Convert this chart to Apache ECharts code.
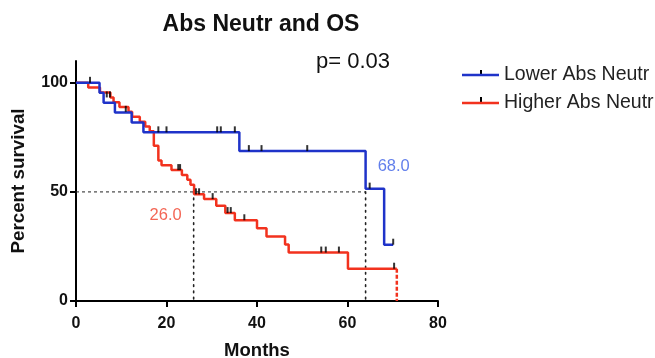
<!DOCTYPE html>
<html>
<head>
<meta charset="utf-8">
<script src="https://cdn.jsdelivr.net/npm/echarts@6/dist/echarts.min.js"></script>
<style>
  html, body { margin: 0; padding: 0; background: #fff; }
  #chart { width: 655px; height: 358px; }
</style>
</head>
<body>
<div id="chart"></div>
<script>
// Kaplan–Meier survival steps: [months, percent surviving]
const lowerSteps = [[0,100],[5.2,95.5],[6.1,90.9],[8.6,86.4],[12.3,81.8],[14.9,77.3],[36.1,68.7],[64.0,51.5],[68.1,25.8],[70.1,25.8]];
const higherSteps = [[0,100],[2.7,97.8],[5.3,95.6],[7.6,93.3],[8.3,91.1],[9.6,88.9],[11.6,86.7],[12.4,84.4],[14.1,82.2],[15.3,80.0],[16.3,77.8],[17.2,71.1],[18.2,64.4],[18.9,62.2],[21.1,60.0],[23.4,57.8],[24.6,55.6],[25.3,53.3],[26.1,48.9],[28.3,46.7],[31.0,43.6],[33.0,40.3],[35.1,37.0],[40.0,33.3],[42.1,29.6],[46.2,25.9],[47.0,22.2],[60.1,14.8],[70.9,14.8]];
// last event of the higher group, drawn dashed
const higherLastDrop = [[70.9,14.8],[70.9,0]];

// censored observations
const lowerCensored = [[3.1,100],[18.2,77.3],[20.0,77.3],[31.2,77.3],[32.0,77.3],[35.1,77.3],[38.2,68.7],[41.0,68.7],[51.1,68.7],[64.9,51.5],[70.1,25.8]];
const higherCensored = [[6.8,93.3],[7.5,93.3],[11.0,86.7],[22.6,60.0],[23.0,60.0],[26.5,48.9],[27.2,48.9],[30.2,46.7],[33.5,40.3],[34.2,40.3],[37.2,37.0],[54.2,22.2],[55.2,22.2],[58.1,22.2],[70.3,14.8]];

// median survival
const medianHigher = 26.0;
const medianLower = 68.0;
const lowerCrossLine = 64.0;   // where the dotted guide meets the 50% line
const halfLine = 50;

const seriesNames = ['Lower Abs Neutr', 'Higher Abs Neutr'];
const titleText = 'Abs Neutr and OS';
const pValueText = 'p= 0.03';
const xTicks = [0, 20, 40, 60, 80];
const yTicks = [0, 50, 100];

const BLUE = '#1f33c9';
const RED = '#f2321e';
const FONT = '"Liberation Sans", Arial, sans-serif';

const chart = echarts.init(document.getElementById('chart'), null, { renderer: 'canvas' });

const censorTick = {
  symbol: 'rect', symbolSize: [2, 6], symbolOffset: [0, -3],
  itemStyle: { color: '#000' }
};

chart.setOption({
  animation: false,
  backgroundColor: '#fff',
  title: {
    text: titleText,
    left: 256, top: 8, textAlign: 'center',
    textStyle: { fontFamily: FONT, fontSize: 23, fontWeight: 'bold', color: '#111' }
  },
  legend: {
    orient: 'vertical',
    left: 462, top: 65, padding: 0,
    itemWidth: 37, itemHeight: 2.5, itemGap: 8,
    icon: 'rect',
    textStyle: { fontFamily: FONT, fontSize: 19.5, color: '#222' },
    data: seriesNames
  },
  grid: { left: 76, right: 217, top: 61, bottom: 57, outerBoundsMode: 'none', containLabel: false },
  xAxis: {
    type: 'value', min: 0, max: 80, interval: 20,
    name: 'Months', nameLocation: 'middle', nameGap: 40,
    nameTextStyle: { fontFamily: FONT, fontSize: 18.5, fontWeight: 'bold', color: '#111' },
    axisLine: { lineStyle: { color: '#000', width: 2 } },
    axisTick: { length: 6, lineStyle: { color: '#000', width: 2 }, customValues: xTicks },
    axisLabel: { fontFamily: FONT, fontSize: 16, fontWeight: 'bold', color: '#111', margin: 15, customValues: xTicks },
    splitLine: { show: false }
  },
  yAxis: {
    type: 'value', min: 0, max: 110, interval: 50,
    name: 'Percent survival', nameLocation: 'middle', nameGap: 48, nameRotate: 90,
    nameTextStyle: { fontFamily: FONT, fontSize: 18.8, fontWeight: 'bold', color: '#111' },
    axisLine: { show: true, lineStyle: { color: '#000', width: 2 } },
    axisTick: { show: true, length: 6, lineStyle: { color: '#000', width: 2 }, customValues: yTicks },
    axisLabel: { fontFamily: FONT, fontSize: 16, fontWeight: 'bold', color: '#111', margin: 8, customValues: yTicks },
    splitLine: { show: false }
  },
  graphic: [
    { type: 'text', left: 316, top: 51,
      style: { text: pValueText, fontFamily: FONT, fontSize: 22, fill: '#111' } },
    // censor ticks on the legend icons
    { type: 'line', shape: { x1: 481, y1: 70, x2: 481, y2: 75 }, style: { stroke: '#000', lineWidth: 2 } },
    { type: 'line', shape: { x1: 481, y1: 97, x2: 481, y2: 102 }, style: { stroke: '#000', lineWidth: 2 } }
  ],
  series: [
    {
      name: seriesNames[0], type: 'line', step: 'end', data: lowerSteps,
      showSymbol: false, symbol: 'none', z: 4,
      color: BLUE, lineStyle: { color: BLUE, width: 2.5 }
    },
    {
      name: seriesNames[1], type: 'line', step: 'end', data: higherSteps,
      showSymbol: false, symbol: 'none', z: 3,
      color: RED, lineStyle: { color: RED, width: 2.5 }
    },
    {
      type: 'line', data: higherLastDrop, symbol: 'none', z: 3,
      lineStyle: { color: RED, width: 2.5, type: [4, 2] }
    },
    Object.assign({ type: 'scatter', data: lowerCensored, z: 6 }, censorTick),
    Object.assign({ type: 'scatter', data: higherCensored, z: 6 }, censorTick),
    // 50% guide and median drop lines
    {
      type: 'line', data: [[0, halfLine], [lowerCrossLine, halfLine]], symbol: 'none', z: 2,
      lineStyle: { color: '#222', width: 1, type: [3, 3] }
    },
    {
      type: 'line', data: [[medianHigher, halfLine], [medianHigher, 0]], symbol: 'none', z: 2,
      lineStyle: { color: '#222', width: 1.6, type: [1.6, 4.6], cap: 'round' }
    },
    {
      type: 'line', data: [[lowerCrossLine, halfLine], [lowerCrossLine, 0]], symbol: 'none', z: 2,
      lineStyle: { color: '#222', width: 1.6, type: [1.6, 4.6], cap: 'round' }
    },
    // median value labels
    {
      type: 'scatter', symbolSize: 0, z: 7,
      data: [[medianHigher, 39]],
      label: { show: true, formatter: medianHigher.toFixed(1), position: 'inside', offset: [-28, 0],
        fontFamily: FONT, fontSize: 16.5, color: '#f0402a' }
    },
    {
      type: 'scatter', symbolSize: 0, z: 7,
      data: [[medianLower, 61.8]],
      label: { show: true, formatter: medianLower.toFixed(1), position: 'inside', offset: [10, 0],
        fontFamily: FONT, fontSize: 16.5, color: '#3a5ee6' }
    }
  ]
});
</script>
</body>
</html>
